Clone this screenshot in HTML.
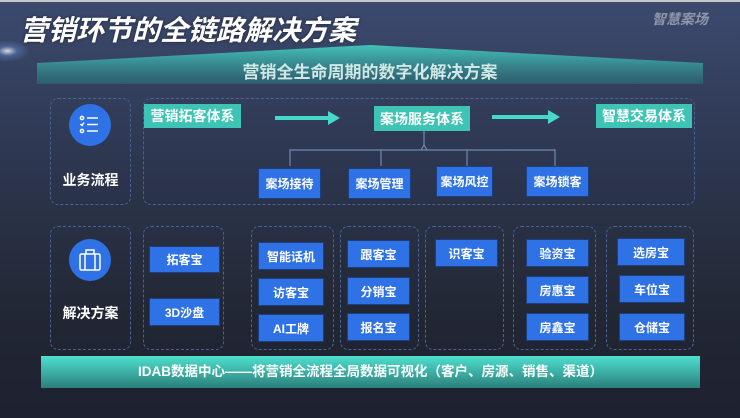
<!DOCTYPE html>
<html><head><meta charset="utf-8">
<style>
*{margin:0;padding:0;box-sizing:border-box}
body{width:740px;height:418px;overflow:hidden;font-family:"Liberation Sans","Noto Sans CJK SC",sans-serif;background:linear-gradient(180deg,#3c4a6e 0%,#2e3852 35%,#222734 75%,#1e2130 100%);position:relative;color:#fff}
.a{position:absolute}
.dash{position:absolute;border:1.5px dashed #4a6296;border-radius:8px}
.g{position:absolute;background:#3ec4b4;color:#fff;font-size:14px;display:flex;align-items:center;justify-content:center;font-weight:bold}
.b{position:absolute;background:#2f72e6;color:#fff;font-size:12px;display:flex;align-items:center;justify-content:center;font-weight:bold;border:1px solid #1c3f80}
.circ{position:absolute;width:42px;height:42px;border-radius:50%;background:#2f72e6}
</style></head><body>
<div class="a" style="left:0;top:0;width:740px;height:2px;background:#c8c8c8"></div>
<div class="a" style="left:-15px;top:40px;width:45px;height:22px;border-radius:50%;background:radial-gradient(ellipse,rgba(255,255,255,.8) 0%,rgba(120,170,255,.3) 30%,rgba(0,0,0,0) 70%)"></div>
<div class="a" style="left:20px;top:9px;font-size:28px;font-weight:bold;font-style:italic;color:#fff;text-shadow:0 0 3px rgba(0,0,0,.5)">营销环节的全链路解决方案</div>
<div class="a" style="left:652px;top:9px;font-size:14px;font-weight:bold;font-style:italic;color:#8f98aa">智慧案场</div>
<svg class="a" style="left:0;top:0" width="740" height="418">
<defs>
<linearGradient id="bn" x1="0" y1="0" x2="0" y2="1"><stop offset="0" stop-color="#46d8c8"/><stop offset="1" stop-color="#2a6f78" stop-opacity=".7"/></linearGradient>
<linearGradient id="bar" x1="0" y1="0" x2="0" y2="1"><stop offset="0" stop-color="#4ee0cf"/><stop offset="1" stop-color="#2b7f7a"/></linearGradient>
</defs>
<polygon points="37,63 370,45 703,63 703,84 37,84" fill="url(#bn)" opacity=".85"/>
<g stroke="#46d8c8" stroke-width="4"><line x1="275" y1="118" x2="330" y2="118"/><line x1="492" y1="117" x2="550" y2="117"/></g>
<polygon points="328,111 340,118 328,125" fill="#46d8c8"/>
<polygon points="548,110 560,117 548,124" fill="#46d8c8"/>
<path d="M424,131 V145 L427,150 H290 V166 M427,150 H555 V166 M381,150 V166 M467,150 V166 M424,145 L421,150" stroke="#6d8ab0" stroke-width="1.2" fill="none"/>
<rect x="41" y="356" width="659" height="32" fill="url(#bar)"/>
</svg>
<div class="a" style="left:37px;top:58px;width:666px;text-align:center;font-size:17px;font-weight:bold;color:#d0e8e6">营销全生命周期的数字化解决方案</div>
<div class="dash" style="left:50px;top:98px;width:81px;height:107px"></div>
<div class="dash" style="left:143px;top:98px;width:552px;height:107px"></div>
<div class="circ" style="left:69px;top:104px"></div>
<svg class="a" style="left:79px;top:114px" width="22" height="22"><g stroke="#fff" stroke-width="1.5" fill="none"><circle cx="3" cy="4" r="1.6"/><circle cx="3" cy="17" r="1.6"/><path d="M1.5,10 L3,11.5 L5,8.5"/><line x1="8" y1="4" x2="19" y2="4"/><line x1="8" y1="10.5" x2="19" y2="10.5"/><line x1="8" y1="17" x2="19" y2="17"/></g></svg>
<div class="a" style="left:50px;top:170px;width:81px;text-align:center;font-size:14px;font-weight:bold">业务流程</div>
<div class="g" style="left:144px;top:104px;width:97px;height:24px">营销拓客体系</div>
<div class="g" style="left:374px;top:106px;width:96px;height:25px">案场服务体系</div>
<div class="g" style="left:596px;top:104px;width:96px;height:24px">智慧交易体系</div>
<div class="b" style="left:258px;top:168px;width:63px;height:31px">案场接待</div>
<div class="b" style="left:348px;top:168px;width:63px;height:31px">案场管理</div>
<div class="b" style="left:436px;top:166px;width:57px;height:31px">案场风控</div>
<div class="b" style="left:526px;top:166px;width:63px;height:31px">案场锁客</div>

<div class="dash" style="left:50px;top:226px;width:81px;height:124px"></div>
<div class="circ" style="left:69px;top:239px"></div>
<svg class="a" style="left:78px;top:248px" width="24" height="24"><g stroke="#fff" stroke-width="1.5" fill="none"><rect x="2" y="6" width="20" height="16" rx="1.5"/><path d="M8,6 V2 H16 V6"/><line x1="7" y1="6" x2="7" y2="22"/><line x1="17" y1="6" x2="17" y2="22"/></g></svg>
<div class="a" style="left:50px;top:303px;width:81px;text-align:center;font-size:14px;font-weight:bold">解决方案</div>

<div class="dash" style="left:143px;top:226px;width:81px;height:124px"></div>
<div class="b" style="left:149px;top:246px;width:71px;height:27px">拓客宝</div>
<div class="b" style="left:149px;top:298px;width:71px;height:28px">3D沙盘</div>

<div class="dash" style="left:251px;top:226px;width:83px;height:124px"></div>
<div class="b" style="left:258px;top:242px;width:66px;height:28px">智能话机</div>
<div class="b" style="left:258px;top:278px;width:66px;height:28px">访客宝</div>
<div class="b" style="left:258px;top:314px;width:66px;height:28px">AI工牌</div>

<div class="dash" style="left:340px;top:226px;width:79px;height:124px"></div>
<div class="b" style="left:347px;top:240px;width:63px;height:28px">跟客宝</div>
<div class="b" style="left:347px;top:277px;width:63px;height:28px">分销宝</div>
<div class="b" style="left:347px;top:313px;width:63px;height:28px">报名宝</div>

<div class="dash" style="left:425px;top:226px;width:79px;height:124px"></div>
<div class="b" style="left:435px;top:239px;width:63px;height:28px">识客宝</div>

<div class="dash" style="left:513px;top:226px;width:83px;height:124px"></div>
<div class="b" style="left:526px;top:239px;width:63px;height:28px">验资宝</div>
<div class="b" style="left:526px;top:276px;width:63px;height:28px">房惠宝</div>
<div class="b" style="left:526px;top:313px;width:63px;height:28px">房鑫宝</div>

<div class="dash" style="left:606px;top:226px;width:88px;height:124px"></div>
<div class="b" style="left:617px;top:238px;width:68px;height:28px">选房宝</div>
<div class="b" style="left:619px;top:275px;width:66px;height:28px">车位宝</div>
<div class="b" style="left:619px;top:313px;width:66px;height:28px">仓储宝</div>

<div class="a" style="left:41px;top:356px;width:659px;height:32px;line-height:32px;text-align:center;font-size:13.5px;font-weight:bold;color:#fff">IDAB数据中心——将营销全流程全局数据可视化（客户、房源、销售、渠道）</div>
</body></html>
